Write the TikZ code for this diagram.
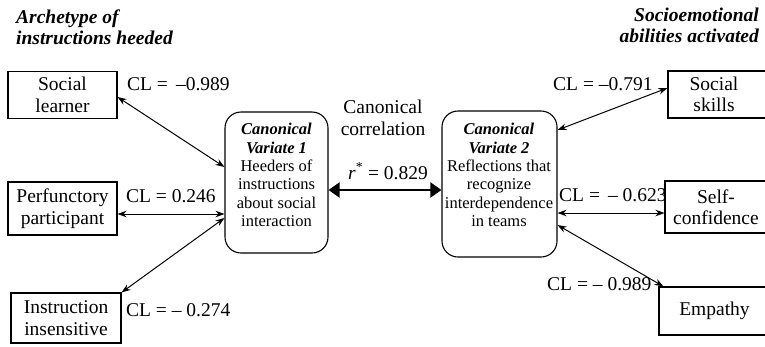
\documentclass[tikz,border=0pt]{standalone}
\usepackage{fontspec}
\setmainfont{Liberation Serif}
\usetikzlibrary{arrows.meta}
\tikzset{
  box/.style={draw, line width=1.1pt, inner sep=0pt, align=center, font=\fontsize{19.5}{21.5}\selectfont},
  blank/.style={draw, line width=1.1pt, inner sep=0pt},
  btext/.style={inner sep=0pt, align=center, font=\fontsize{19.5}{21.5}\selectfont},
  cvbox/.style={draw, line width=1.1pt, rounded corners=16pt, inner sep=0pt},
  cvtext/.style={align=center, inner sep=0pt, font=\fontsize{16.5}{18.4}\selectfont},
  lab/.style={inner sep=0pt, font=\fontsize{19.5}{21.5}\selectfont},
  head/.style={inner sep=0pt, font=\fontsize{19.5}{21}\selectfont\bfseries\itshape},
  link/.style={line width=1pt, {Stealth[length=9pt,width=6.5pt]}-{Stealth[length=9pt,width=6.5pt]}},
  bigarrow/.style={line width=2pt, {Triangle[length=11pt,width=15pt]}-{Triangle[length=11pt,width=15pt]}}
}
\begin{document}
\begin{tikzpicture}[x=1pt,y=-1pt]
\useasboundingbox (0,0) rectangle (765,346);
\clip (0,0) rectangle (765,346);
% headers
\node[head, anchor=north west, align=left] (hl) at (16,10) {Archetype of\\instructions heeded};
\node[head, anchor=north east, align=right] (hr) at (759,8) {Socioemotional\\abilities activated};
% left boxes
\node[box, minimum width=109pt, minimum height=47pt] (sl) at (62.5,95) {Social\\learner};
\node[box, minimum width=109pt, minimum height=53pt] (pp) at (62.5,208.5) {Perfunctory\\participant};
\node[box, minimum width=110pt, minimum height=50pt] (ii) at (66,318) {Instruction\\insensitive};
% right boxes
\node[blank, minimum width=107pt, minimum height=47pt] (ss) at (721.5,94.5) {};
\node[btext] (sst) at (714,94.5) {Social\\skills};
\node[blank, minimum width=110pt, minimum height=52pt] (sc) at (720,207) {};
\node[btext] (sct) at (716,207) {Self-\\confidence};
\node[blank, minimum width=116pt, minimum height=48pt] (em) at (717,311) {};
\node[btext] (emt) at (714.5,311) {Empathy};
% canonical variates
\node[cvbox, minimum width=103pt, minimum height=141pt] (cv1) at (276.5,182.5) {};
\node[cvtext] (cv1t) at (276.5,175) {{\bfseries\itshape Canonical}\\{\bfseries\itshape Variate 1}\\Heeders of\\instructions\\about social\\interaction};
\node[cvbox, minimum width=115pt, minimum height=146pt] (cv2) at (499.5,184) {};
\node[cvtext] (cv2t) at (499,175) {{\bfseries\itshape Canonical}\\{\bfseries\itshape Variate 2}\\Reflections that\\recognize\\interdependence\\in teams};
% centre labels
\node[lab, align=center] (cc) at (383,118) {Canonical\\correlation};
\node[lab, anchor=base west] (rr) at (348,179) {\textit{r}\textsuperscript{*} = 0.829};
% CL labels
\node[lab, anchor=base west] (l1) at (127,90) {CL = \,–0.989};
\node[lab, anchor=base west] (l2) at (126,202) {CL = 0.246};
\node[lab, anchor=base west] (l3) at (126,316) {CL = – 0.274};
\node[lab, anchor=base west] (r1) at (553,90) {CL = –0.791};
\node[lab, anchor=base west] (r2) at (559,201) {CL = \,– 0.623};
\node[lab, anchor=base west] (r3) at (547,290) {CL = – 0.989};
% connectors
\draw[link] ([yshift=-2pt]sl.east) -- ([yshift=15.5pt]cv1.west);
\draw[link] ([yshift=-5.5pt]pp.east) -- ([yshift=-31.5pt]cv1.west);
\draw[link] (ii.north east) -- ([yshift=-35.5pt]cv1.west);
\draw[bigarrow] ([yshift=-7.5pt]cv1.east) -- ([yshift=-7.5pt]cv1.east -| cv2.west);
\draw[link] ([yshift=54pt]cv2.east) -- ([yshift=6.5pt]ss.west);
\draw[link] ([yshift=-29pt]cv2.east) -- ([yshift=-6pt]sc.west);
\draw[link] ([yshift=-41pt]cv2.east) -- ([xshift=5pt]em.north west);
\end{tikzpicture}
\end{document}
